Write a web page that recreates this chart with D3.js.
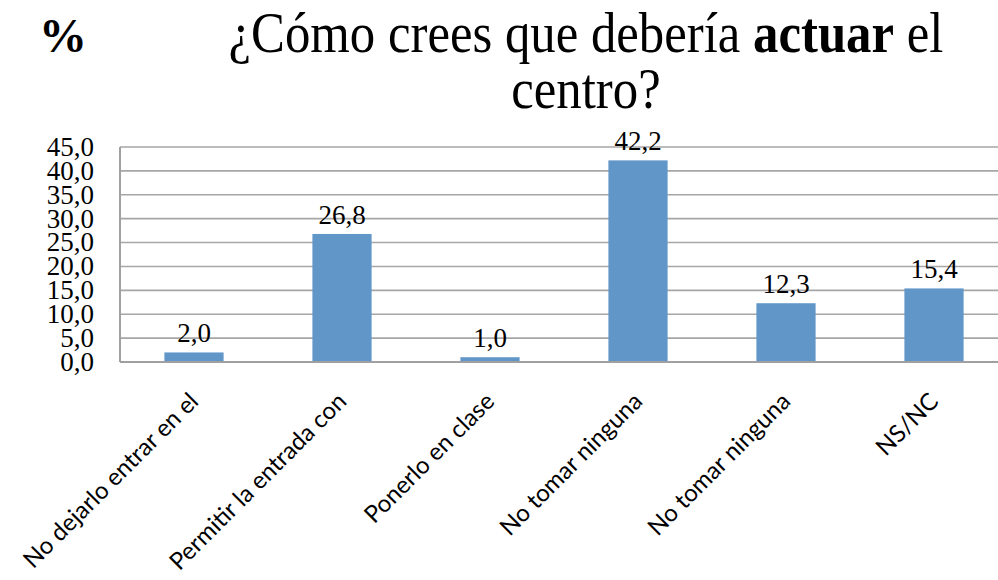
<!DOCTYPE html>
<html>
<head>
<meta charset="utf-8">
<script src="https://cdn.jsdelivr.net/npm/d3@7"></script>
<style>
  body { margin: 0; background: #fff; }
  svg { display: block; }
</style>
</head>
<body>
<svg class="chart_svg"></svg>
<script>
var categories = ["No dejarlo entrar en el", "Permitir la entrada con", "Ponerlo en clase",
  "No tomar ninguna", "No tomar ninguna ", "NS/NC"];
var values = [2.0, 26.8, 1.0, 42.2, 12.3, 15.4];
var yTicks = [0, 5, 10, 15, 20, 25, 30, 35, 40, 45];

var W = 998, H = 580;
var margin = { top: 147, left: 120, bottom: 218 };
var plotRight = 1008; // plot area runs past the right edge of the picture

var svg = d3.select(".chart_svg").attr("width", W).attr("height", H);

var fmt = function (v) { return v.toFixed(1).replace(".", ","); };

var x = d3.scaleBand().domain(categories).range([margin.left, plotRight])
  .paddingInner(0.6).paddingOuter(0.3);
var y = d3.scaleLinear().domain([0, 45]).range([H - margin.bottom, margin.top]);

// gridlines
svg.selectAll(".grid").data(yTicks.filter(d => d > 0)).join("line").attr("class", "grid")
  .attr("x1", margin.left).attr("x2", plotRight)
  .attr("y1", d => y(d)).attr("y2", d => y(d))
  .attr("stroke", "#a6a6a6").attr("stroke-width", 1.6);

// bars
svg.selectAll(".bar").data(values).join("rect").attr("class", "bar")
  .attr("x", (d, i) => x(categories[i]))
  .attr("y", d => y(d))
  .attr("width", x.bandwidth())
  .attr("height", d => y(0) - y(d))
  .attr("fill", "#6196c9");

// axes lines
svg.append("line").attr("x1", margin.left).attr("x2", margin.left)
  .attr("y1", y(45)).attr("y2", y(0)).attr("stroke", "#a0a0a0").attr("stroke-width", 2);
svg.append("line").attr("x1", margin.left).attr("x2", plotRight)
  .attr("y1", y(0)).attr("y2", y(0)).attr("stroke", "#a0a0a0").attr("stroke-width", 2);

// y tick labels
svg.selectAll(".ytick").data(yTicks).join("text").attr("class", "ytick")
  .attr("x", margin.left - 26).attr("y", d => y(d)).attr("dy", "0.33em")
  .attr("text-anchor", "end")
  .style("font-family", "'Liberation Serif', serif").style("font-size", "27px")
  .attr("fill", "#000").text(fmt);

// data labels
svg.selectAll(".dlabel").data(values).join("text").attr("class", "dlabel")
  .attr("x", (d, i) => x(categories[i]) + x.bandwidth() / 2)
  .attr("y", d => y(d) - 10)
  .attr("text-anchor", "middle")
  .style("font-family", "'Liberation Serif', serif").style("font-size", "27px")
  .attr("fill", "#000").text(fmt);

// category labels, rotated
svg.selectAll(".xlabel").data(categories).join("text").attr("class", "xlabel")
  .attr("transform", d => `translate(${x(d) + x.bandwidth() / 2 - 6}, ${y(0) + 29}) rotate(-45)`)
  .attr("text-anchor", "end").attr("dy", "0.7em")
  .style("font-family", "Lato, sans-serif").style("font-size", "24px")
  .attr("fill", "#000").text(d => d.trim());

// title
var title = svg.append("g").attr("class", "chart_title")
  .style("font-family", "'Liberation Serif', serif").style("font-size", "58px").attr("fill", "#000");
var t1 = title.append("text").attr("x", 586).attr("y", 52).attr("text-anchor", "middle");
t1.append("tspan").text("¿Cómo crees que debería ");
t1.append("tspan").style("font-weight", "bold").text("actuar");
t1.append("tspan").text(" el");
var t2 = title.append("text").attr("x", 586).attr("y", 108).attr("text-anchor", "middle").text("centro?");

// squeeze title horizontally to the reference width
var w1 = t1.node().getBBox().width;
var sx = 715 / w1;
title.attr("transform", `translate(${586 * (1 - sx)},0) scale(${sx},1)`);

svg.append("text").attr("x", 63).attr("y", 52).attr("text-anchor", "middle")
  .style("font-family", "'Liberation Serif', serif").style("font-size", "48px")
  .style("font-weight", "bold").attr("fill", "#000").text("%");
</script>
</body>
</html>
